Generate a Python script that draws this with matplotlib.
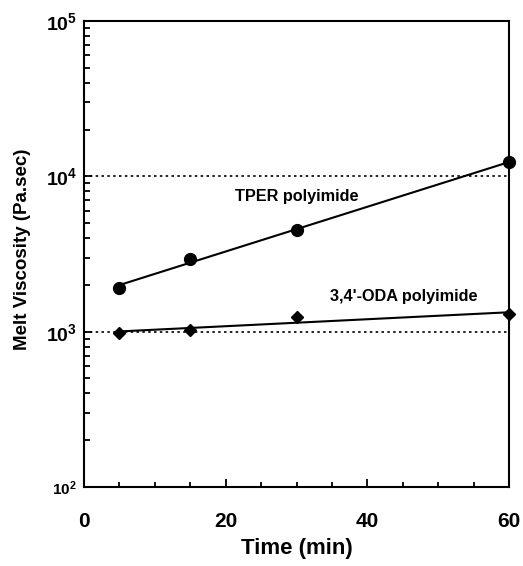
import numpy as np
import matplotlib
matplotlib.use('Agg')
import matplotlib.pyplot as plt
from matplotlib.ticker import FixedLocator, MultipleLocator, NullFormatter

plt.rcParams['font.family'] = ['Liberation Sans', 'DejaVu Sans']
plt.rcParams['mathtext.default'] = 'regular'

# data
time = [5, 15, 30, 60]
tper = [1915, 2950, 4510, 12300]
oda = [986, 1020, 1243, 1291]
ref_levels = [1e4, 1e3]
x_ticks = [0, 20, 40, 60]
y_ticks = [1e2, 1e3, 1e4, 1e5]
y_tick_labels = ['$10^2$', '$10^3$', '$10^4$', '$10^5$']

fig = plt.figure(figsize=(5.23, 5.66), dpi=100)
ax = fig.add_axes([84 / 523, 1 - 487 / 566, 425 / 523, 466 / 566])

# horizontal dotted reference lines
for lev in ref_levels:
    ax.plot([0, 60], [lev, lev], color='black', lw=1.2, ls=(0, (1.5, 2.0)))

# log-linear fits through the points
t = np.array(time, dtype=float)
xf = np.array([5.0, 60.0])
for vals in (tper, oda):
    p = np.polyfit(t, np.log10(vals), 1)
    ax.plot(xf, 10 ** np.polyval(p, xf), color='black', lw=1.5)

ax.plot(time, tper, 'o', color='black', ms=8.5, clip_on=False)
ax.plot(time, oda, 'D', color='black', ms=6.3, clip_on=False)

ax.text(30.0, 10 ** 3.872, 'TPER polyimide', fontsize=11.7, fontweight='bold',
        ha='center', va='center')
ax.text(45.2, 10 ** 3.224, "3,4'-ODA polyimide", fontsize=11.7, fontweight='bold',
        ha='center', va='center')

ax.set_yscale('log')
ax.set_xlim(0, 60)
ax.set_ylim(1e2, 1e5)

ax.xaxis.set_major_locator(FixedLocator(x_ticks))
ax.xaxis.set_minor_locator(MultipleLocator(5))
ax.yaxis.set_major_locator(FixedLocator(y_ticks))
ax.set_yticklabels(y_tick_labels)
ax.yaxis.set_minor_formatter(NullFormatter())

ax.tick_params(axis='both', which='both', direction='in', right=False, top=False, width=1.3)
ax.tick_params(axis='x', which='major', length=5.5, pad=18, labelsize=15)
ax.tick_params(axis='x', which='minor', length=3.5)
ax.tick_params(axis='y', which='major', length=6, pad=5, labelsize=14)
ax.tick_params(axis='y', which='minor', length=4)
for lbl in ax.get_xticklabels():
    lbl.set_fontweight('bold')
for lbl in ax.get_yticklabels():
    lbl.set_fontweight('bold')
    if lbl.get_text() == '$10^2$':
        lbl.set_fontsize(11)

for s in ax.spines.values():
    s.set_linewidth(1.5)

ax.set_xlabel('Time (min)', fontsize=16, fontweight='bold', labelpad=5)
ax.set_ylabel('Melt Viscosity (Pa.sec)', fontsize=13.5, fontweight='bold')
ax.yaxis.set_label_coords(-0.125, 0.51)

fig.savefig('out.png', dpi=100)
